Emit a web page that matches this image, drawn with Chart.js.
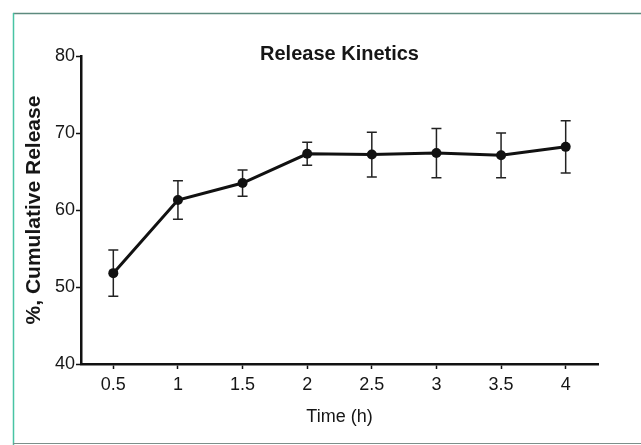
<!DOCTYPE html>
<html>
<head>
<meta charset="utf-8">
<script src="https://cdn.jsdelivr.net/npm/chart.js@4.4.1/dist/chart.umd.min.js"></script>
<style>
  html, body { margin: 0; padding: 0; background: #ffffff; }
  #wrap { position: absolute; left: 0; top: 0; width: 641px; height: 445px; }
</style>
</head>
<body>
<div id="wrap"><canvas id="c" width="641" height="445"></canvas></div>
<script>
const chartTitle = "Release Kinetics";
const xTitle = "Time (h)";
const yTitle = "%, Cumulative Release";
const timeLabels = ["0.5", "1", "1.5", "2", "2.5", "3", "3.5", "4"];
const releaseMean = [51.8, 61.3, 63.5, 67.3, 67.2, 67.4, 67.1, 68.2];
const releaseErr = [3.0, 2.5, 1.7, 1.5, 2.9, 3.2, 2.9, 3.4];
const yTicks = [40, 50, 60, 70, 80];

const FONT = "'Liberation Sans', Arial, sans-serif";
const INK = "#161616";

const framePlugin = {
  id: "frame",
  beforeDraw(chart) {
    const ctx = chart.ctx;
    ctx.save();
    ctx.fillStyle = "#ffffff";
    ctx.fillRect(0, 0, chart.width, chart.height);
    ctx.lineWidth = 1.5;
    ctx.strokeStyle = "#5d8a7e";
    ctx.beginPath();
    ctx.moveTo(13, 13.5);
    ctx.lineTo(chart.width, 13.5);
    ctx.stroke();
    ctx.strokeStyle = "#48c4a4";
    ctx.beginPath();
    ctx.moveTo(13.5, 13);
    ctx.lineTo(13.5, chart.height);
    ctx.stroke();
    ctx.strokeStyle = "#7c8f8a";
    ctx.lineWidth = 1;
    ctx.beginPath();
    ctx.moveTo(13, chart.height - 1.5);
    ctx.lineTo(chart.width, chart.height - 1.5);
    ctx.stroke();
    ctx.restore();
  }
};

const titlePlugin = {
  id: "innerTitle",
  afterDraw(chart) {
    const ctx = chart.ctx;
    const a = chart.chartArea;
    ctx.save();
    ctx.fillStyle = INK;
    ctx.font = "bold 20px " + FONT;
    ctx.textAlign = "center";
    ctx.textBaseline = "middle";
    ctx.fillText(chartTitle, (a.left + a.right) / 2, 54);
    ctx.restore();
  }
};

const errorBarPlugin = {
  id: "errorBars",
  beforeDatasetsDraw(chart) {
    const ctx = chart.ctx;
    const meta = chart.getDatasetMeta(0);
    const ys = chart.scales.y;
    ctx.save();
    ctx.strokeStyle = "#222";
    ctx.lineWidth = 1.5;
    meta.data.forEach((pt, i) => {
      const x = pt.x;
      const yTop = ys.getPixelForValue(releaseMean[i] + releaseErr[i]);
      const yBot = ys.getPixelForValue(releaseMean[i] - releaseErr[i]);
      const cap = 5;
      ctx.beginPath();
      ctx.moveTo(x, yTop); ctx.lineTo(x, yBot);
      ctx.moveTo(x - cap, yTop); ctx.lineTo(x + cap, yTop);
      ctx.moveTo(x - cap, yBot); ctx.lineTo(x + cap, yBot);
      ctx.stroke();
    });
    ctx.restore();
  }
};

new Chart(document.getElementById("c"), {
  type: "line",
  data: {
    labels: timeLabels,
    datasets: [{
      data: releaseMean,
      borderColor: "#111",
      backgroundColor: "#111",
      borderWidth: 3,
      pointRadius: 5,
      pointBackgroundColor: "#111",
      pointBorderColor: "#111",
      pointBorderWidth: 0,
      tension: 0,
      fill: false
    }]
  },
  options: {
    responsive: false,
    animation: false,
    devicePixelRatio: 1,
    layout: { padding: { left: 14, right: 43, top: 56, bottom: 14 } },
    plugins: {
      legend: { display: false },
      title: { display: false },
      tooltip: { enabled: false }
    },
    scales: {
      x: {
        type: "category",
        offset: true,
        afterFit(s) { s.height = 67; },
        border: { display: true, color: "#111", width: 2.5 },
        grid: { display: true, drawOnChartArea: false, drawTicks: true, tickLength: 5, tickColor: "#111", tickWidth: 1.5, offset: false },
        ticks: { color: INK, font: { family: FONT, size: 18 }, padding: 5, maxRotation: 0 },
        title: { display: true, text: xTitle, color: INK, font: { family: FONT, size: 18 }, padding: { top: 2, bottom: 3 } }
      },
      y: {
        min: 40,
        max: 80,
        afterFit(s) { s.width = 67; },
        afterBuildTicks(s) { s.ticks = yTicks.map(v => ({ value: v })); },
        border: { display: true, color: "#111", width: 2.5 },
        grid: { display: true, drawOnChartArea: false, drawTicks: true, tickLength: 5, tickColor: "#111", tickWidth: 1.5 },
        ticks: { color: INK, font: { family: FONT, size: 18 }, padding: 1 },
        title: { display: true, text: yTitle, color: INK, font: { family: FONT, size: 21, weight: "bold" }, padding: { top: 8, bottom: 2 } }
      }
    }
  },
  plugins: [framePlugin, errorBarPlugin, titlePlugin]
});
</script>
</body>
</html>
